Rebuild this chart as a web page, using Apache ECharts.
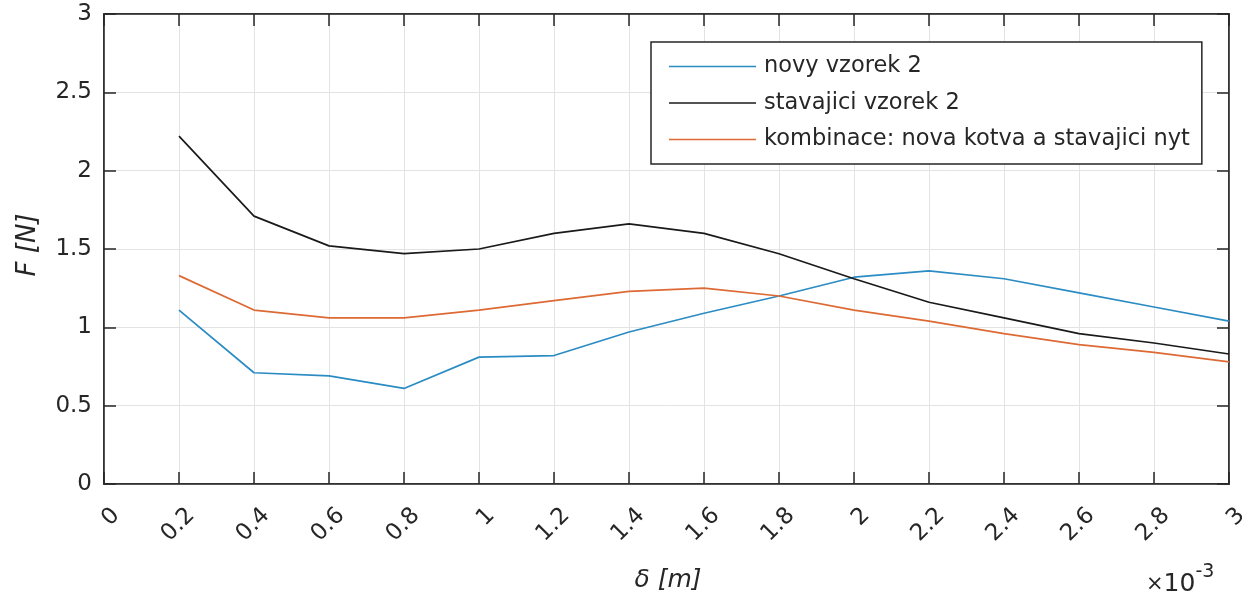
<!DOCTYPE html>
<html><head><meta charset="utf-8">
<script src="https://cdn.jsdelivr.net/npm/echarts@6/dist/echarts.min.js"></script>
<style>html,body{margin:0;padding:0;background:#fff}#c{width:1260px;height:597px}</style>
</head><body><div id="c"></div>
<script>
const delta = [0.2,0.4,0.6,0.8,1.0,1.2,1.4,1.6,1.8,2.0,2.2,2.4,2.6,2.8,3.0];
const novyVzorek2 = [1.11,0.71,0.69,0.61,0.81,0.82,0.97,1.09,1.20,1.32,1.36,1.31,1.22,1.13,1.04];
const stavajiciVzorek2 = [2.22,1.71,1.52,1.47,1.50,1.60,1.66,1.60,1.47,1.31,1.16,1.06,0.96,0.90,0.83];
const kombinace = [1.33,1.11,1.06,1.06,1.11,1.17,1.23,1.25,1.20,1.11,1.04,0.96,0.89,0.84,0.78];
const seriesNames = ['novy vzorek 2','stavajici vzorek 2','kombinace: nova kotva a stavajici nyt'];
const seriesColors = ['#2b8cc4','#1a1a1a','#dd6a35'];

const font = '"DejaVu Sans", Arial, sans-serif';
const pair = arr => delta.map((d,i)=>[d,arr[i]]);
const chart = echarts.init(document.getElementById('c'));
const axisLineStyle = {color:'#262626', width:1.5};
const fmtX = v => '{t|' + String(Math.round(v*10)/10) + '}';
const fmtY = v => String(Math.round(v*10)/10);
chart.setOption({
  animation:false,
  backgroundColor:'#fff',
  grid:{left:104,right:31,top:14,bottom:113,show:true,borderColor:'#262626',borderWidth:1.5,backgroundColor:'#fff'},
  legend:{
    orient:'vertical', left:651, top:42,
    backgroundColor:'#fff', borderColor:'#262626', borderWidth:1.5,
    padding:[13,12,13,18], itemGap:13.5, itemWidth:87, itemHeight:24,
    icon:'path://M0,11.3 L87,11.3 L87,12.7 L0,12.7 Z',
    textStyle:{fontFamily:font,fontSize:22.5,color:'#262626',padding:[0,0,0,3]},
    data:seriesNames
  },
  xAxis:[{
    type:'value', min:0, max:3, interval:0.2,
    axisLine:{show:true,onZero:false,lineStyle:axisLineStyle},
    axisTick:{show:true,inside:true,length:12,lineStyle:axisLineStyle},
    axisLabel:{rotate:45,margin:16,formatter:fmtX,
      rich:{t:{fontFamily:font,fontSize:23,color:'#262626',padding:[34,0,0,0]}}},
    splitLine:{show:true,lineStyle:{color:'#e3e3e3',width:1}}
  },{
    type:'value', position:'top', min:0, max:3, interval:0.2,
    axisLine:{show:true,onZero:false,lineStyle:axisLineStyle},
    axisTick:{show:true,inside:true,length:12,lineStyle:axisLineStyle},
    axisLabel:{show:false}, splitLine:{show:false}
  }],
  yAxis:[{
    type:'value', min:0, max:3, interval:0.5,
    axisLine:{show:true,onZero:false,lineStyle:axisLineStyle},
    axisTick:{show:true,inside:true,length:12,lineStyle:axisLineStyle},
    axisLabel:{margin:12,fontFamily:font,fontSize:23,color:'#262626',formatter:fmtY},
    splitLine:{show:true,lineStyle:{color:'#e3e3e3',width:1}}
  },{
    type:'value', position:'right', min:0, max:3, interval:0.5,
    axisLine:{show:true,onZero:false,lineStyle:axisLineStyle},
    axisTick:{show:true,inside:true,length:12,lineStyle:axisLineStyle},
    axisLabel:{show:false}, splitLine:{show:false}
  }],
  graphic:[
    {type:'text', x:668, y:580, style:{text:'δ [m]', font:'italic 25px '+font, fill:'#262626', align:'center', verticalAlign:'middle'}},
    {type:'text', x:28, y:245, rotation:Math.PI/2, style:{text:'F [N]', font:'italic 26px '+font, fill:'#262626', align:'center', verticalAlign:'middle'}},
    {type:'text', x:1146, y:563, style:{
      text:'{a|×}{b|10}{c|-3}',
      rich:{a:{fontFamily:font,fontSize:21,fill:'#262626',padding:[9,0,0,0]},b:{fontFamily:font,fontSize:25,fill:'#262626',padding:[9,0,0,0]},c:{fontFamily:font,fontSize:19,fill:'#262626',verticalAlign:'top',padding:[0,0,14,0]}}
    }}
  ],
  series:[0,1,2].map(i=>({
    name:seriesNames[i], type:'line', xAxisIndex:0, yAxisIndex:0,
    data:pair([novyVzorek2,stavajiciVzorek2,kombinace][i]),
    showSymbol:false, symbol:'none',
    lineStyle:{color:seriesColors[i],width:1.7},
    itemStyle:{color:seriesColors[i]}
  }))
});
</script></body></html>
